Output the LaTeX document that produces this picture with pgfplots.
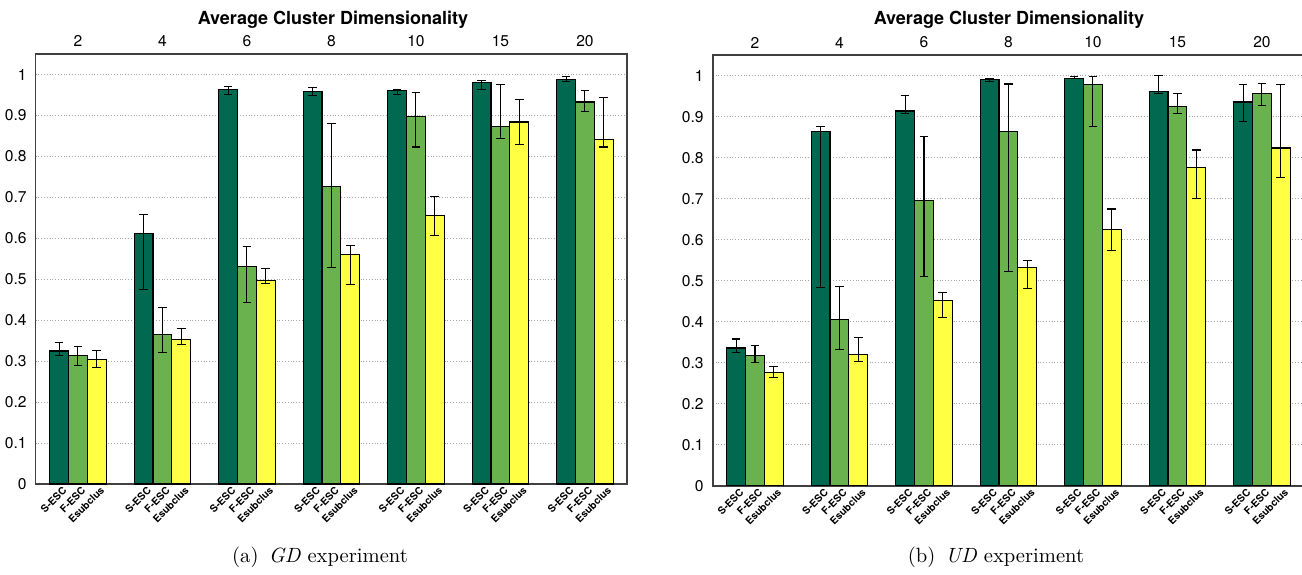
\documentclass[border=0pt]{standalone}
\usepackage{pgfplots}
\pgfplotsset{compat=1.18}
\usepackage{pgfplotstable}
\usepackage{fontspec}
\setsansfont{TeX Gyre Heros}
\definecolor{cS}{HTML}{00694F}
\definecolor{cF}{HTML}{6AB24E}
\definecolor{cE}{HTML}{FFFF44}
\definecolor{frame}{HTML}{404040}

% GD experiment: group, value, lower, upper
\pgfplotstableread{
g v lo hi
1 0.325 0.313 0.345
2 0.611 0.475 0.657
3 0.963 0.950 0.970
4 0.959 0.949 0.968
5 0.961 0.951 0.963
6 0.981 0.963 0.985
7 0.988 0.983 0.996
}\gdS
\pgfplotstableread{
g v lo hi
1 0.314 0.289 0.335
2 0.365 0.322 0.432
3 0.531 0.444 0.579
4 0.726 0.528 0.881
5 0.897 0.823 0.955
6 0.873 0.843 0.976
7 0.933 0.910 0.960
}\gdF
\pgfplotstableread{
g v lo hi
1 0.304 0.284 0.327
2 0.352 0.340 0.380
3 0.497 0.490 0.527
4 0.560 0.487 0.583
5 0.656 0.606 0.701
6 0.884 0.828 0.938
7 0.842 0.823 0.944
}\gdE
% UD experiment
\pgfplotstableread{
g v lo hi
1 0.336 0.325 0.358
2 0.865 0.484 0.877
3 0.914 0.908 0.952
4 0.990 0.986 0.994
5 0.994 0.993 0.999
6 0.961 0.956 1.001
7 0.936 0.889 0.979
}\udS
\pgfplotstableread{
g v lo hi
1 0.317 0.301 0.343
2 0.406 0.332 0.487
3 0.696 0.511 0.853
4 0.865 0.523 0.980
5 0.978 0.877 0.999
6 0.925 0.907 0.956
7 0.956 0.928 0.981
}\udF
\pgfplotstableread{
g v lo hi
1 0.277 0.265 0.291
2 0.320 0.304 0.361
3 0.451 0.410 0.472
4 0.533 0.481 0.550
5 0.625 0.573 0.675
6 0.776 0.701 0.819
7 0.824 0.751 0.979
}\udE

\pgfplotsset{
  barbase/.style={
    scale only axis,
    width=295.75pt,
    xmin=0.5, xmax=7.5,
    ymin=0, ymax=1.05,
    ybar, bar width=0.2235,
    ytick={0,0.1,...,1},
    yticklabels={0,0.1,0.2,0.3,0.4,0.5,0.6,0.7,0.8,0.9,1},
    ymajorgrids,
    grid style={densely dotted, gray!70, line width=0.4pt},
    major tick length=0pt,
    axis line style={frame, line width=0.8pt},
    /pgf/number format/assume math mode=true,
    yticklabel style={font=\sffamily\fontsize{7.8}{8}\selectfont, xshift=-1pt},
    xtick={0.7765,1,1.2235,1.7765,2,2.2235,2.7765,3,3.2235,3.7765,4,4.2235,4.7765,5,5.2235,5.7765,6,6.2235,6.7765,7,7.2235},
    xticklabels={S-ESC,F-ESC,Esubclus,S-ESC,F-ESC,Esubclus,S-ESC,F-ESC,Esubclus,S-ESC,F-ESC,Esubclus,S-ESC,F-ESC,Esubclus,S-ESC,F-ESC,Esubclus,S-ESC,F-ESC,Esubclus},
    xticklabel style={font=\sffamily\bfseries\fontsize{5.1}{6}\selectfont, rotate=45, anchor=north east, inner sep=0.6pt, xshift=1pt, yshift=-1pt},
  },
  topbase/.style={
    scale only axis,
    width=295.75pt,
    xmin=0.5, xmax=7.5,
    ymin=0, ymax=1.05,
    axis x line*=top,
    axis y line=none,
    major tick length=0pt,
    axis line style={frame, line width=0.8pt},
    xtick={1,...,7},
    xticklabels={2,4,6,8,10,15,20},
    xticklabel style={font=\sffamily\fontsize{7.8}{8}\selectfont},
    /pgf/number format/assume math mode=true,
  },
  errs/.style={
    bar shift=0pt, draw=black, line width=0.6pt,
    error bars/.cd, y dir=both, y explicit,
    error bar style={black, line width=0.55pt},
    error mark options={rotate=90, black, mark size=2.2pt, line width=0.55pt}
  }
}

\begin{document}
\begin{tikzpicture}
\useasboundingbox (0,0) rectangle (651pt,287pt);

% ---------- (a) GD ----------
\begin{axis}[barbase, height=215pt, at={(17.85pt,45pt)}, anchor=south west]
\addplot[fill=cS, errs] table[x expr=\thisrow{g}-0.2235, y=v,
  y error plus expr=\thisrow{hi}-\thisrow{v}, y error minus expr=\thisrow{v}-\thisrow{lo}] {\gdS};
\addplot[fill=cF, errs] table[x expr=\thisrow{g}, y=v,
  y error plus expr=\thisrow{hi}-\thisrow{v}, y error minus expr=\thisrow{v}-\thisrow{lo}] {\gdF};
\addplot[fill=cE, errs] table[x expr=\thisrow{g}+0.2235, y=v,
  y error plus expr=\thisrow{hi}-\thisrow{v}, y error minus expr=\thisrow{v}-\thisrow{lo}] {\gdE};
\end{axis}
\begin{axis}[topbase, height=215pt, at={(17.85pt,45pt)}, anchor=south west]
\end{axis}
\node[font=\sffamily\bfseries\fontsize{9}{10}\selectfont] at (166.5pt,277pt) {Average Cluster Dimensionality};
\node[font=\fontsize{10.3}{12}\selectfont] at (160pt,8.5pt) {(a)\enspace\textit{GD} experiment};

% ---------- (b) UD ----------
\begin{axis}[barbase, height=215.2pt, at={(356.35pt,44.15pt)}, anchor=south west]
\addplot[fill=cS, errs] table[x expr=\thisrow{g}-0.2235, y=v,
  y error plus expr=\thisrow{hi}-\thisrow{v}, y error minus expr=\thisrow{v}-\thisrow{lo}] {\udS};
\addplot[fill=cF, errs] table[x expr=\thisrow{g}, y=v,
  y error plus expr=\thisrow{hi}-\thisrow{v}, y error minus expr=\thisrow{v}-\thisrow{lo}] {\udF};
\addplot[fill=cE, errs] table[x expr=\thisrow{g}+0.2235, y=v,
  y error plus expr=\thisrow{hi}-\thisrow{v}, y error minus expr=\thisrow{v}-\thisrow{lo}] {\udE};
\end{axis}
\begin{axis}[topbase, height=215.2pt, at={(356.35pt,44.15pt)}, anchor=south west]
\end{axis}
\node[font=\sffamily\bfseries\fontsize{9}{10}\selectfont] at (504.5pt,277pt) {Average Cluster Dimensionality};
\node[font=\fontsize{10.3}{12}\selectfont] at (498pt,8.5pt) {(b)\enspace\textit{UD} experiment};
\end{tikzpicture}
\end{document}
